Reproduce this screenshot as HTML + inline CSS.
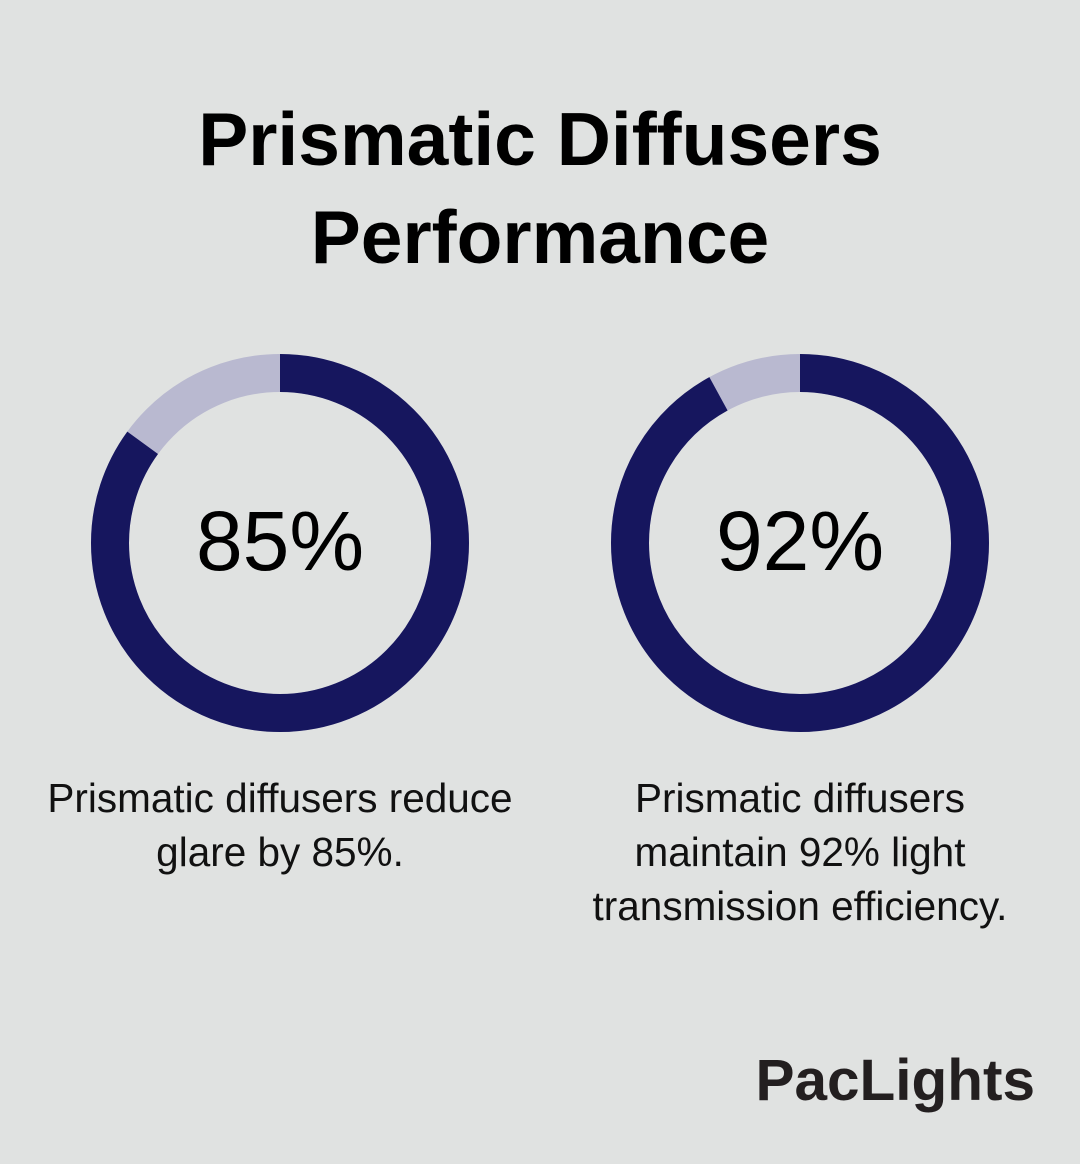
<!DOCTYPE html>
<html><head><meta charset="utf-8"><style>
html,body{margin:0;padding:0;}
body{width:1080px;height:1164px;background:#e0e2e1;position:relative;overflow:hidden;font-family:"Liberation Sans",sans-serif;}
.cap{position:absolute;width:540px;text-align:center;font-size:40.5px;line-height:54px;color:#111;}
svg{position:absolute;left:0;top:0;}
</style></head><body>
<svg width="1080" height="1164">
<text x="540" y="165" text-anchor="middle" font-family="Liberation Sans" font-weight="bold" font-size="75" fill="#000">Prismatic Diffusers</text>
<text x="540" y="263" text-anchor="middle" font-family="Liberation Sans" font-weight="bold" font-size="75" fill="#000">Performance</text>
<g transform="rotate(-90 280 543)">
<circle cx="280" cy="543" r="170" fill="none" stroke="#b9b9d0" stroke-width="38"/>
<circle cx="280" cy="543" r="170" fill="none" stroke="#16165e" stroke-width="38" stroke-dasharray="907.9 2000"/>
</g>
<g transform="rotate(-90 800 543)">
<circle cx="800" cy="543" r="170" fill="none" stroke="#b9b9d0" stroke-width="38"/>
<circle cx="800" cy="543" r="170" fill="none" stroke="#16165e" stroke-width="38" stroke-dasharray="982.7 2000"/>
</g>
<text x="280" y="570" text-anchor="middle" font-family="Liberation Sans" font-size="84" fill="#000">85%</text>
<text x="800" y="570" text-anchor="middle" font-family="Liberation Sans" font-size="84" fill="#000">92%</text>
<text x="1035" y="1100" text-anchor="end" font-family="Liberation Sans" font-weight="bold" font-size="58.5" fill="#231f20">PacLights</text>
</svg>
<div class="cap" style="left:10px;top:771px;">Prismatic diffusers reduce<br>glare by 85%.</div>
<div class="cap" style="left:530px;top:771px;">Prismatic diffusers<br>maintain 92% light<br>transmission efficiency.</div>
</body></html>
